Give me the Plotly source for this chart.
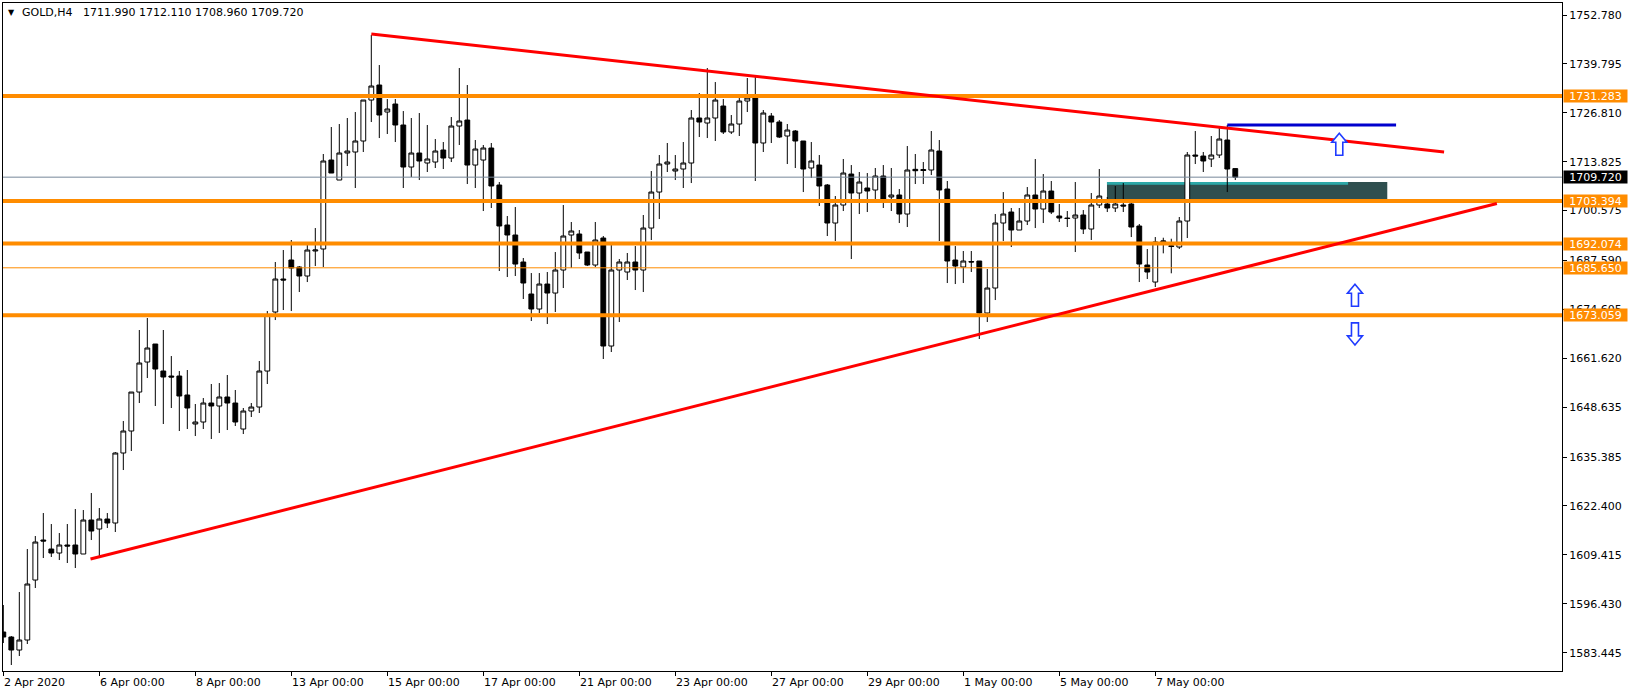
import plotly.graph_objects as go

# ---------------- data (GOLD, H4) ----------------
opens = [1588.93,1587.60,1584.15,1586.81,1602.74,1613.36,1610.97,1609.91,1612.04,1612.04,
         1609.65,1618.67,1616.28,1618.94,1617.88,1636.47,1642.31,1652.66,1660.63,1665.41,
         1658.24,1656.91,1656.91,1651.87,1644.17,1644.70,1649.74,1648.95,1651.34,1649.74,
         1642.84,1647.62,1648.68,1658.24,1673.91,1682.67,1687.72,1685.86,1683.47,1690.11,
         1690.64,1714.27,1708.96,1716.13,1716.40,1719.32,1730.20,1734.19,1727.02,1729.14,
         1723.57,1712.41,1716.13,1713.48,1713.74,1716.93,1714.80,1723.30,1724.89,1712.94,
         1714.27,1717.46,1707.63,1697.01,1694.36,1687.19,1678.69,1674.71,1681.34,1678.95,
         1685.06,1694.36,1694.62,1689.84,1686.39,1693.56,1664.88,1685.06,1684.53,1687.19,
         1685.06,1696.21,1705.77,1713.21,1711.35,1711.88,1713.48,1725.43,1724.10,1725.43,
         1728.61,1721.71,1723.83,1729.94,1730.74,1718.79,1725.96,1724.36,1720.65,1721.97,
         1719.32,1712.15,1712.94,1707.63,1697.54,1702.32,1710.55,1705.51,1706.84,1706.31,
         1710.02,1704.45,1704.98,1699.93,1711.80,1711.75,1711.62,1716.66,1706.57,1687.72,
         1685.86,1687.32,1687.45,1673.64,1680.28,1697.54,1700.46,1695.68,1698.07,1704.98,
         1701.26,1706.04,1699.40,1698.87,1698.87,1699.67,1695.95,1702.32,1702.59,1701.53,
         1702.32,1702.59,1696.75,1686.39,1681.87,1692.50,1691.50,1691.17,1698.07,1715.60,
         1715.33,1714.54,1715.60,1719.58,1711.99]
highs = [1596.10,1587.87,1599.55,1610.97,1614.43,1620.53,1617.61,1615.22,1617.61,1621.60,
         1621.33,1625.84,1621.86,1620.53,1636.73,1644.96,1652.66,1669.13,1672.32,1665.41,
         1669.13,1662.22,1658.24,1658.51,1649.48,1651.07,1654.79,1655.05,1657.18,1653.20,
         1648.42,1649.74,1660.90,1674.17,1687.19,1690.37,1693.03,1686.12,1691.70,1696.21,
         1715.87,1723.04,1723.83,1725.43,1727.02,1730.20,1747.47,1739.50,1730.47,1730.47,
         1727.28,1725.43,1726.75,1723.57,1719.85,1719.05,1725.69,1738.70,1734.19,1719.58,
         1718.26,1718.79,1708.43,1699.40,1701.79,1688.25,1684.26,1684.26,1684.53,1689.84,
         1702.32,1697.81,1695.68,1689.84,1697.81,1694.09,1691.70,1687.98,1689.58,1691.43,
         1699.67,1711.35,1715.60,1718.79,1715.60,1719.05,1727.55,1732.06,1738.70,1734.98,
         1730.47,1726.22,1730.74,1736.05,1736.84,1727.55,1726.75,1724.89,1723.83,1722.24,
         1719.32,1719.05,1715.60,1707.90,1704.71,1714.54,1712.94,1711.09,1710.82,1712.15,
         1712.94,1712.15,1706.57,1717.99,1715.87,1713.74,1721.97,1719.58,1708.70,1691.43,
         1690.11,1690.11,1687.45,1685.33,1699.93,1705.77,1701.53,1701.53,1707.10,1714.54,
         1710.55,1708.70,1702.59,1700.73,1708.43,1700.99,1705.51,1711.88,1704.45,1707.37,
         1708.16,1703.12,1697.28,1690.64,1693.82,1693.64,1693.37,1699.14,1716.40,1721.97,
         1716.40,1720.65,1722.77,1723.57,1712.11]
lows = [1586.01,1580.17,1582.56,1585.75,1600.62,1608.58,1608.85,1608.05,1607.26,1605.93,
        1609.65,1613.36,1608.58,1616.55,1615.49,1631.95,1637.00,1649.74,1656.38,1648.95,
        1644.17,1648.42,1642.31,1642.84,1640.98,1642.84,1640.18,1641.78,1642.57,1643.64,
        1641.51,1646.03,1647.09,1654.79,1671.78,1674.44,1674.17,1679.22,1681.87,1686.12,
        1685.86,1710.82,1708.96,1712.68,1706.84,1716.40,1724.36,1720.11,1721.18,1719.05,
        1706.84,1709.76,1708.96,1711.09,1712.15,1711.88,1713.74,1718.26,1707.90,1706.84,
        1700.73,1701.53,1684.80,1683.20,1683.47,1677.36,1671.52,1673.64,1670.72,1673.91,
        1680.28,1685.59,1687.98,1686.12,1685.86,1661.43,1663.29,1671.25,1682.41,1679.75,
        1679.22,1693.03,1698.60,1711.09,1708.96,1706.84,1708.16,1720.38,1720.11,1719.32,
        1721.18,1721.18,1720.65,1727.02,1708.70,1716.40,1718.79,1720.11,1713.21,1712.15,
        1705.77,1709.49,1702.06,1694.09,1692.76,1700.73,1687.98,1699.93,1700.46,1703.92,
        1701.53,1700.73,1697.54,1696.48,1707.90,1707.90,1710.29,1692.76,1681.61,1681.34,
        1681.61,1684.53,1666.74,1671.25,1677.09,1692.76,1691.17,1695.68,1697.01,1696.21,
        1697.54,1699.93,1697.81,1696.48,1689.84,1694.62,1693.03,1701.53,1700.46,1700.46,
        1700.46,1693.82,1681.87,1682.67,1680.55,1689.49,1684.19,1690.64,1693.56,1713.21,
        1711.09,1712.41,1714.80,1705.77,1708.96]
closes = [1587.60,1584.15,1586.81,1601.68,1612.83,1613.10,1609.91,1612.04,1611.77,1609.65,
          1618.67,1615.75,1618.94,1617.88,1636.47,1642.31,1652.66,1660.37,1664.35,1658.77,
          1656.65,1656.65,1651.60,1648.42,1644.70,1649.74,1648.95,1651.34,1649.74,1644.70,
          1647.62,1648.68,1658.24,1673.11,1682.67,1682.41,1685.59,1683.47,1690.37,1690.37,
          1714.01,1710.82,1716.13,1716.66,1719.32,1730.20,1733.92,1726.22,1727.82,1723.57,
          1712.41,1716.13,1714.01,1714.54,1716.66,1714.80,1723.30,1724.63,1712.94,1717.19,
          1717.46,1707.37,1696.75,1694.36,1686.65,1681.61,1674.71,1681.34,1678.95,1685.06,
          1694.09,1695.42,1689.58,1686.39,1693.03,1664.88,1685.06,1687.19,1687.19,1685.06,
          1696.21,1705.77,1713.21,1713.74,1711.88,1713.48,1725.43,1724.36,1725.43,1730.20,
          1721.71,1723.83,1729.94,1730.74,1718.79,1726.75,1724.36,1720.38,1722.24,1719.32,
          1711.88,1714.01,1707.37,1697.54,1702.32,1710.82,1705.51,1708.43,1706.04,1710.02,
          1703.92,1704.98,1699.93,1711.62,1711.43,1711.49,1716.93,1706.31,1687.45,1686.12,
          1687.45,1687.19,1673.64,1680.28,1697.54,1699.93,1695.68,1698.07,1704.98,1701.26,
          1706.04,1700.46,1698.87,1698.74,1699.67,1695.95,1702.32,1704.71,1701.53,1702.59,
          1702.06,1696.48,1686.65,1684.53,1692.50,1692.76,1691.30,1698.07,1715.60,1715.33,
          1714.01,1715.60,1719.85,1711.88,1709.72]
bar_index = list(range(len(opens)))

x_tick_bars = [0, 12, 24, 36, 48, 60, 72, 84, 96, 108, 120, 132, 144]
x_tick_labels = ["2 Apr 2020", "6 Apr 00:00", "8 Apr 00:00", "13 Apr 00:00", "15 Apr 00:00",
                 "17 Apr 00:00", "21 Apr 00:00", "23 Apr 00:00", "27 Apr 00:00",
                 "29 Apr 00:00", "1 May 00:00", "5 May 00:00", "7 May 00:00"]
y_tick_vals = [1752.780, 1739.795, 1726.810, 1713.825, 1700.840, 1687.590, 1674.605,
               1661.620, 1648.635, 1635.385, 1622.400, 1609.415, 1596.430, 1583.445]
y_tick_text = ["1752.780", "1739.795", "1726.810", "1713.825", "1700.575", "1687.590", "1674.605",
               "1661.620", "1648.635", "1635.385", "1622.400", "1609.415", "1596.430", "1583.445"]

thick_levels = [1731.283, 1703.394, 1692.074, 1673.059]
thin_levels = [1685.650]
last_price = 1709.720
header_text = "GOLD,H4\u00a0\u00a0 1711.990 1712.110 1708.960 1709.720"

upper_trend_x = [46, 180.1]
upper_trend_y = [1747.73, 1716.40]
lower_trend_x = [10.9, 186.7]
lower_trend_y = [1608.32, 1702.72]
blue_line_x = [153, 174.1]
blue_line_y = 1723.57
zone_x = [137.96, 173.0]
zone_y = [1703.79, 1708.43]
zone_top_x = [137.96, 168.1]
zone_top_y = [1707.71, 1708.43]
arrow_bars = [167.0, 168.96, 168.96]
arrow_prices = [1718.47, 1678.37, 1668.10]
arrow_dirs = ["up", "up", "down"]

x_range = [-0.04, 194.84]
y_range = [1578.58, 1755.97]

FIG_W, FIG_H = 1633, 695
MARGIN = dict(l=3, r=71, t=3, b=24)
FONT = "DejaVu Sans"
ORANGE = "#FF8C00"

fig = go.Figure()
fig.add_trace(go.Candlestick(
    x=bar_index, open=opens, high=highs, low=lows, close=closes,
    increasing=dict(fillcolor="#FFFFFF", line=dict(color="#000000", width=1)),
    decreasing=dict(fillcolor="#000000", line=dict(color="#000000", width=1)),
    whiskerwidth=0, showlegend=False, hoverinfo="skip",
))

# size of one pixel in axis units (for drawing the hollow arrow objects at a fixed pixel size)
plot_w = FIG_W - MARGIN["l"] - MARGIN["r"]
plot_h = FIG_H - MARGIN["t"] - MARGIN["b"]
bar_per_px = (x_range[1] - x_range[0]) / plot_w
price_per_px = (y_range[1] - y_range[0]) / plot_h
ARROW_UP = [(0, -11), (7.5, -2), (3.5, -2), (3.5, 11), (-3.5, 11), (-3.5, -2), (-7.5, -2)]


def arrow_path(xc, yc, direction):
    pts = ARROW_UP if direction == "up" else [(px, -py) for px, py in ARROW_UP]
    coords = [(xc + px * bar_per_px, yc - py * price_per_px) for px, py in pts]
    return "M " + " L ".join(f"{a:.4f},{b:.4f}" for a, b in coords) + " Z"


shapes = []
shapes.append(dict(type="rect", xref="x", yref="y", x0=zone_x[0], x1=zone_x[1],
                   y0=zone_y[0], y1=zone_y[1], fillcolor="#2F4F4F",
                   line=dict(width=0), layer="below"))
shapes.append(dict(type="rect", xref="x", yref="y", x0=zone_top_x[0], x1=zone_top_x[1],
                   y0=zone_top_y[0], y1=zone_top_y[1], fillcolor="#2CA8A8",
                   line=dict(width=0), layer="below"))
shapes.append(dict(type="line", xref="paper", yref="y", x0=0, x1=1, y0=last_price, y1=last_price,
                   line=dict(color="#778899", width=1)))
for lv in thin_levels:
    shapes.append(dict(type="line", xref="paper", yref="y", x0=0, x1=1, y0=lv, y1=lv,
                       line=dict(color=ORANGE, width=1)))
for lv in thick_levels:
    shapes.append(dict(type="line", xref="paper", yref="y", x0=0, x1=1, y0=lv, y1=lv,
                       line=dict(color=ORANGE, width=4)))
shapes.append(dict(type="line", xref="x", yref="y", x0=upper_trend_x[0], x1=upper_trend_x[1],
                   y0=upper_trend_y[0], y1=upper_trend_y[1], line=dict(color="#FF0000", width=3)))
shapes.append(dict(type="line", xref="x", yref="y", x0=lower_trend_x[0], x1=lower_trend_x[1],
                   y0=lower_trend_y[0], y1=lower_trend_y[1], line=dict(color="#FF0000", width=3)))
shapes.append(dict(type="line", xref="x", yref="y", x0=blue_line_x[0], x1=blue_line_x[1],
                   y0=blue_line_y, y1=blue_line_y, line=dict(color="#0000CD", width=3)))
for b, p, d in zip(arrow_bars, arrow_prices, arrow_dirs):
    shapes.append(dict(type="path", xref="x", yref="y", path=arrow_path(b, p, d),
                       fillcolor="#FFFFFF", line=dict(color="#1F3BFF", width=1.6)))

annotations = []
for b, lab in zip(x_tick_bars, x_tick_labels):
    annotations.append(dict(x=b, xref="x", y=0, yref="paper", text=lab, showarrow=False,
                            xanchor="left", yanchor="top", yshift=-3, xshift=-1,
                            font=dict(family=FONT, size=11, color="#000000")))
for lv in thick_levels + thin_levels:
    annotations.append(dict(x=1, xref="paper", y=lv, yref="y", text=f"{lv:.3f}", showarrow=False,
                            xanchor="left", yanchor="middle", xshift=1, width=63, height=12,
                            borderpad=0, bgcolor=ORANGE, align="center",
                            font=dict(family=FONT, size=11, color="#FFFFFF")))
annotations.append(dict(x=1, xref="paper", y=last_price, yref="y", text=f"{last_price:.3f}",
                        showarrow=False, xanchor="left", yanchor="middle", xshift=1, width=63,
                        height=12, borderpad=0, bgcolor="#000000", align="center",
                        font=dict(family=FONT, size=11, color="#FFFFFF")))
annotations.append(dict(x=0, xref="paper", y=1, yref="paper", text="\u25bc", showarrow=False,
                        xanchor="center", yanchor="middle", xshift=8, yshift=-9,
                        font=dict(family=FONT, size=8, color="#000000")))
annotations.append(dict(x=0, xref="paper", y=1, yref="paper", text=header_text, showarrow=False,
                        xanchor="left", yanchor="middle", xshift=17, yshift=-9,
                        font=dict(family=FONT, size=11, color="#000000")))

fig.update_layout(
    width=FIG_W, height=FIG_H,
    margin=MARGIN,
    paper_bgcolor="#FFFFFF", plot_bgcolor="#FFFFFF",
    showlegend=False, boxgap=0.4, boxgroupgap=0,
    shapes=shapes, annotations=annotations,
    xaxis=dict(range=x_range, showgrid=False, zeroline=False, showline=True, linecolor="#000000",
               linewidth=1, mirror=True, ticks="outside", ticklen=4, tickcolor="#000000",
               tickvals=x_tick_bars, showticklabels=False, rangeslider=dict(visible=False),
               fixedrange=True),
    yaxis=dict(range=y_range, side="right", showgrid=False, zeroline=False, showline=True,
               linecolor="#000000", linewidth=1, mirror=True, ticks="outside", ticklen=4,
               tickcolor="#000000", tickvals=y_tick_vals, ticktext=y_tick_text,
               tickfont=dict(family=FONT, size=11, color="#000000"), fixedrange=True),
)

fig.write_html("out.html", config={"displayModeBar": False},
               post_script="document.body.style.margin='0px';document.body.style.padding='0px';")
